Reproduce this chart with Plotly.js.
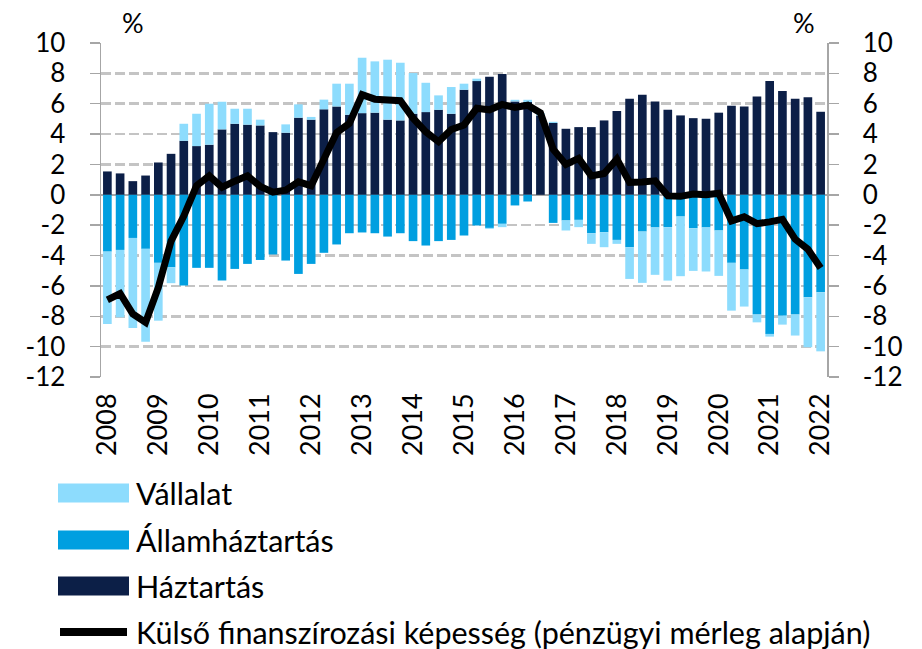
<!DOCTYPE html>
<html>
<head>
<meta charset="utf-8">
<script src="https://cdn.plot.ly/plotly-3.0.1.min.js"></script>
<style>html,body{margin:0;padding:0;background:#fff;}#chart{width:922px;height:649px;}</style>
</head>
<body>
<div id="chart"></div>
<script>
const quarters = [
"2008 Q1","2008 Q2","2008 Q3","2008 Q4","2009 Q1","2009 Q2","2009 Q3","2009 Q4",
"2010 Q1","2010 Q2","2010 Q3","2010 Q4","2011 Q1","2011 Q2","2011 Q3","2011 Q4",
"2012 Q1","2012 Q2","2012 Q3","2012 Q4","2013 Q1","2013 Q2","2013 Q3","2013 Q4",
"2014 Q1","2014 Q2","2014 Q3","2014 Q4","2015 Q1","2015 Q2","2015 Q3","2015 Q4",
"2016 Q1","2016 Q2","2016 Q3","2016 Q4","2017 Q1","2017 Q2","2017 Q3","2017 Q4",
"2018 Q1","2018 Q2","2018 Q3","2018 Q4","2019 Q1","2019 Q2","2019 Q3","2019 Q4",
"2020 Q1","2020 Q2","2020 Q3","2020 Q4","2021 Q1","2021 Q2","2021 Q3","2021 Q4",
"2022 Q1"];

const yearTickVals = ["2008 Q1","2009 Q1","2010 Q1","2011 Q1","2012 Q1","2013 Q1","2014 Q1",
"2015 Q1","2016 Q1","2017 Q1","2018 Q1","2019 Q1","2020 Q1","2021 Q1","2022 Q1"];
const yearLabels = ["2008","2009","2010","2011","2012","2013","2014","2015","2016","2017",
"2018","2019","2020","2021","2022"];
const yearBoundaries = [3.5,7.5,11.5,15.5,19.5,23.5,27.5,31.5,35.5,39.5,43.5,47.5,51.5,55.5];

const yTickVals = [10,8,6,4,2,0,-2,-4,-6,-8,-10,-12];
const yTickText = ["10","8","6","4","2","0","-2","-4","-6","-8","-10","-12"];

// Háztartás (households)
const haztartas = [1.54,1.41,0.90,1.27,2.13,2.70,3.56,3.21,3.30,4.31,
4.68,4.62,4.57,4.13,4.09,5.08,4.95,5.63,5.82,5.27,
5.38,5.41,4.95,4.90,5.34,5.45,5.60,5.34,6.92,7.49,
7.78,7.96,6.15,6.11,5.23,4.73,4.35,4.46,4.46,4.90,
5.52,6.33,6.59,6.15,5.60,5.23,5.05,5.01,5.41,5.87,
5.82,6.48,7.49,6.84,6.33,6.42,5.47];

// Államháztartás (general government)
const allamhaztartas = [-3.74,-3.63,-2.84,-3.56,-4.48,-4.77,-5.98,-4.81,-4.81,-5.65,
-4.88,-4.55,-4.29,-3.93,-4.33,-5.21,-4.55,-3.82,-3.27,-2.53,
-2.48,-2.53,-2.75,-2.53,-3.05,-3.34,-3.05,-2.97,-2.68,-2.02,
-2.18,-1.91,-0.70,-0.44,0.00,-1.85,-1.69,-1.65,-2.53,-2.46,
-2.97,-3.45,-2.42,-2.15,-2.13,-1.43,-2.20,-2.15,-2.35,-4.48,
-4.92,-7.89,-9.16,-7.96,-7.89,-6.75,-6.42];

// Vállalat (corporate)
const vallalat = [-4.77,-4.44,-5.93,-6.11,-3.81,-1.05,1.12,2.13,2.70,1.82,
0.99,1.05,0.38,0.00,0.55,0.88,0.18,0.64,1.50,2.05,
3.65,3.38,3.95,3.80,2.68,1.93,0.95,1.76,0.40,0.16,
-0.06,-0.22,0.11,0.15,0.15,0.08,-0.66,-0.48,-0.70,-0.99,
-0.26,-2.09,-3.38,-3.12,-3.52,-3.93,-2.81,-2.90,-2.99,-3.15,
-2.44,-0.51,-0.18,-0.59,-1.38,-3.29,-3.89];

// Külső finanszírozási képesség
const kulso = [-6.92,-6.50,-7.85,-8.40,-6.10,-3.05,-1.40,0.60,1.25,0.50,
0.90,1.25,0.55,0.18,0.30,0.85,0.60,2.30,4.10,4.70,
6.60,6.30,6.20,6.20,5.05,4.15,3.50,4.30,4.60,5.70,
5.60,5.95,5.75,5.90,5.40,3.00,2.00,2.40,1.25,1.40,
2.35,0.82,0.85,0.92,-0.07,-0.10,0.05,0.00,0.10,-1.72,
-1.45,-1.90,-1.78,-1.62,-2.92,-3.58,-4.82];

const names = ["Vállalat","Államháztartás","Háztartás","Külső finanszírozási képesség (pénzügyi mérleg alapján)"];
const colors = {vall:"#8ddcfd", allam:"#009fe0", haz:"#0c1f47", line:"#000000"};

const FONT = "Lato, 'Open Sans', sans-serif";
const W = 922, H = 649, ML = 101, MR = 95, MT = 43, MB = 272;
const PW = W - ML - MR, PH = H - MT - MB;
const px = x => (x - ML) / PW;
const py = y => (H - MB - y) / PH;

const traces = [
  {type:"bar", name:names[2], x:quarters, y:haztartas, marker:{color:colors.haz}, showlegend:false, hoverinfo:"skip"},
  {type:"bar", name:names[1], x:quarters, y:allamhaztartas, marker:{color:colors.allam}, showlegend:false, hoverinfo:"skip"},
  {type:"bar", name:names[0], x:quarters, y:vallalat, marker:{color:colors.vall}, showlegend:false, hoverinfo:"skip"},
  {type:"scatter", mode:"lines", name:names[3], x:quarters, y:kulso, yaxis:"y2",
   line:{color:colors.line, width:7, shape:"linear"}, showlegend:false, hoverinfo:"skip"}
];

// Legend (drawn as swatches + text)
const legendRows = [493, 540, 586, 632];
const shapes = [];
const annotations = [];
const swatchColors = [colors.vall, colors.allam, colors.haz];
for (let i = 0; i < 3; i++) {
  shapes.push({type:"rect", xref:"paper", yref:"paper",
    x0:px(58), x1:px(129), y0:py(legendRows[i]-9.5), y1:py(legendRows[i]+9.5),
    fillcolor:swatchColors[i], line:{width:0}});
}
shapes.push({type:"line", xref:"paper", yref:"paper", x0:px(60), x1:px(127),
  y0:py(legendRows[3]), y1:py(legendRows[3]), line:{color:"#000", width:8}});
for (let i = 0; i < 4; i++) {
  annotations.push({xref:"paper", yref:"paper", x:px(134), y:py(legendRows[i]),
    xanchor:"left", yanchor:"middle", showarrow:false, text:names[i],
    font:{family:FONT, size:30.5, color:"#000"}});
}
annotations.push({xref:"paper", yref:"paper", x:px(133), y:py(22), xanchor:"center", yanchor:"middle",
  showarrow:false, text:"%", font:{family:FONT, size:27, color:"#000"}});
annotations.push({xref:"paper", yref:"paper", x:px(804), y:py(22), xanchor:"center", yanchor:"middle",
  showarrow:false, text:"%", font:{family:FONT, size:27, color:"#000"}});

const axisGray = "#a6a6a6";
const layout = {
  width:W, height:H,
  margin:{l:ML, r:MR, t:MT, b:MB, pad:0},
  paper_bgcolor:"#fff", plot_bgcolor:"#fff",
  barmode:"relative", bargap:0.32,
  showlegend:false,
  font:{family:FONT, size:27, color:"#000"},
  xaxis:{type:"category", range:[-0.5, 56.5], tickmode:"array", tickvals:yearTickVals, ticktext:yearLabels,
    tickangle:-90, ticks:"", showgrid:false, showline:false, zeroline:false,
    tickfont:{family:FONT, size:27, color:"#000"}, ticklabelstandoff:10, fixedrange:true},
  xaxis2:{overlaying:"x", anchor:"free", position:12/22, range:[-0.5,56.5], tickmode:"array",
    tickvals:yearBoundaries, showticklabels:false, ticks:"outside", ticklen:6, tickwidth:1.5,
    tickcolor:axisGray, showgrid:false, showline:false, zeroline:false},
  yaxis:{range:[-12,10], tickmode:"array", tickvals:yTickVals, ticktext:yTickText,
    ticks:"outside", ticklen:10, tickwidth:1.5, tickcolor:axisGray,
    showline:true, linecolor:axisGray, linewidth:1.5,
    showgrid:true, gridcolor:"#c4c4c4", gridwidth:2.5, griddash:"10px,4px",
    zeroline:true, zerolinecolor:axisGray, zerolinewidth:2,
    tickfont:{family:FONT, size:26, color:"#000"}, ticklabelstandoff:19},
  yaxis2:{range:[-12,10], overlaying:"y", side:"right", tickmode:"array", tickvals:yTickVals, ticktext:yTickText,
    ticks:"outside", ticklen:10, tickwidth:1.5, tickcolor:axisGray,
    showline:true, linecolor:axisGray, linewidth:1.5, showgrid:false, zeroline:false,
    tickfont:{family:FONT, size:26, color:"#000"}, ticklabelstandoff:19},
  shapes:shapes,
  annotations:annotations
};

Plotly.newPlot("chart", traces, layout, {staticPlot:true, displayModeBar:false});
</script>
</body>
</html>
